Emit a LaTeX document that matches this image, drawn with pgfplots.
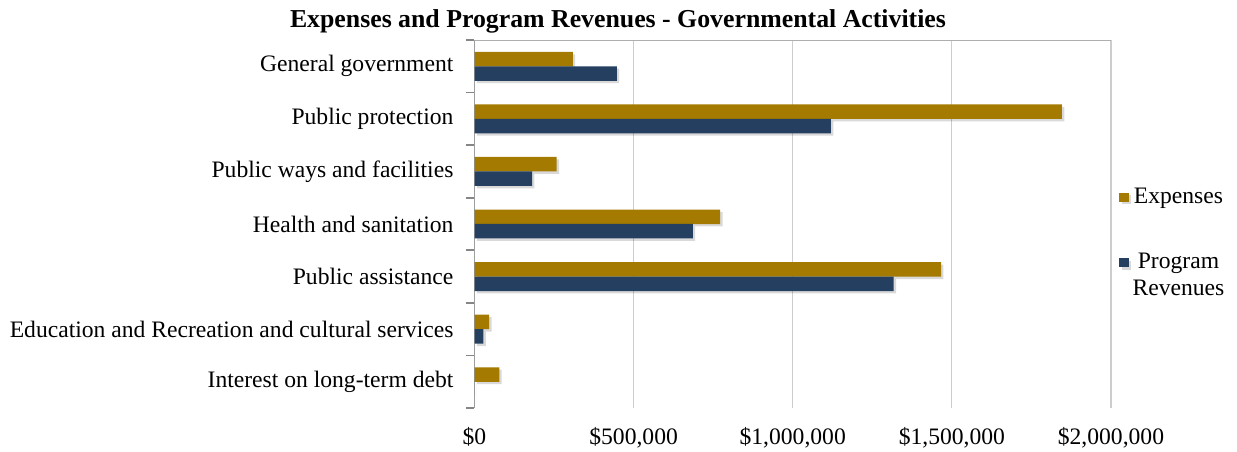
\documentclass[border=0pt]{standalone}
\usepackage{fontspec}
\setmainfont{Liberation Serif}
\usepackage{pgfplots}
\pgfplotsset{compat=1.18}
\definecolor{expgold}{RGB}{164,122,0}
\definecolor{revblue}{RGB}{36,63,96}
\definecolor{gridgray}{RGB}{205,205,205}
\definecolor{axisgray}{RGB}{134,134,134}
\newcommand{\lblfont}{\fontsize{11.8pt}{13.5pt}\selectfont}
\tikzset{
  barshadow/.style={preaction={fill=black, fill opacity=0.15,
                    transform canvas={xshift=1.2pt, yshift=-1.2pt}}},
}

\begin{document}
\begin{tikzpicture}
\begin{axis}[
  at={(0,0)}, anchor=south west,
  scale only axis, width=318.25pt, height=184pt,
  xbar, bar width=7.25pt,
  xmin=0, xmax=2000000,
  ymin=-0.5, ymax=6.5, y dir=reverse,
  xtick={0,500000,1000000,1500000,2000000},
  xticklabels={{\$0},{\$500,000},{\$1,000,000},{\$1,500,000},{\$2,000,000}},
  scaled x ticks=false,
  ytick={0,...,6},
  yticklabels={General government, Public protection,
               Public ways and facilities, Health and sanitation,
               Public assistance,
               Education and Recreation and cultural services,
               Interest on long-term debt},
  minor ytick={-0.5,0.5,1.5,2.5,3.5,4.5,5.5,6.5},
  major tick length=0pt, minor tick length=4pt,
  tick align=outside, tick pos=left,
  minor tick style={axisgray, line width=0.8pt},
  xmajorgrids, grid style={gridgray, line width=0.6pt},
  axis line style={draw=none},
  xticklabel style={font=\lblfont, yshift=-6pt},
  yticklabel style={font=\lblfont, xshift=-7pt},
  legend style={draw=none, fill=none, at={(1.0,0.447)}, anchor=west,
                xshift=1pt, row sep=19.5pt, font=\lblfont,
                cells={align=center}},
]
\addplot[fill=expgold, draw=none, bar shift=3.6pt, barshadow,
         legend image code/.code={\fill[expgold] (0pt,-2.3pt) rectangle (4.6pt,2.3pt);}]
  coordinates {(309000,0) (1846000,1) (258000,2) (772000,3)
               (1466000,4) (46000,5) (78000,6)};
\addlegendentry{Expenses}
\addplot[fill=revblue, draw=none, bar shift=-3.6pt, barshadow,
         legend image code/.code={\fill[revblue] (0pt,4.45pt) rectangle (4.6pt,9.05pt);}]
  coordinates {(447000,0) (1120000,1) (181000,2) (686000,3)
               (1317000,4) (28000,5) (0,6)};
\addlegendentry{Program\\Revenues}
\draw[axisgray, line width=0.8pt] (rel axis cs:0,0) -- (rel axis cs:0,1);
\draw[gridgray!85!black, line width=0.6pt] (rel axis cs:0,1) -- (rel axis cs:1,1);
\end{axis}
\node[font=\bfseries\fontsize{12.9pt}{15pt}\selectfont] at (71.75pt,193.5pt)
  {Expenses and Program Revenues - Governmental Activities};
\pgfresetboundingbox
\path[use as bounding box] (-237.25pt,-21.5pt) rectangle (381.25pt,204pt);
\end{tikzpicture}
\end{document}
